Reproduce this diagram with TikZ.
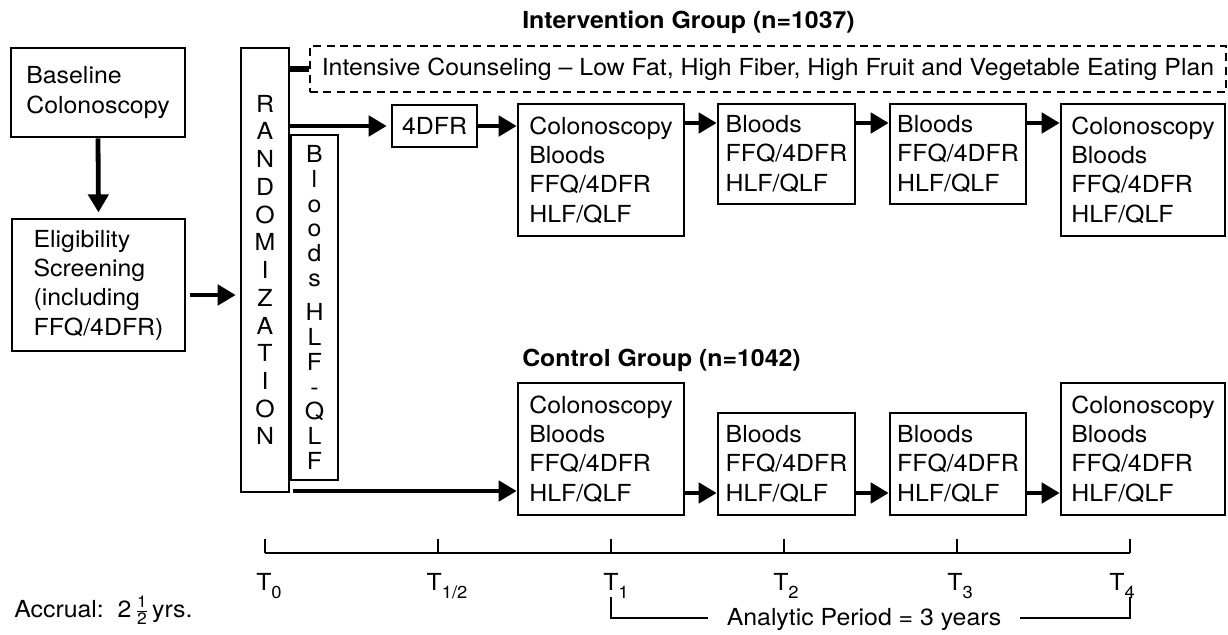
\documentclass[tikz,border=0pt]{standalone}
\usepackage{amsmath}
\usepackage{fontspec}
\setmainfont{TeX Gyre Heros}[FakeStretch=1.06]
\usetikzlibrary{arrows.meta}

\newcommand{\Tsub}[1]{T\raisebox{-6pt}{\fontsize{13}{13}\selectfont #1}}

\begin{document}
\begin{tikzpicture}[
    x=0.75pt, y=-0.75pt,
    every node/.style={font=\fontsize{17.6}{22}\selectfont, inner sep=0pt},
    kasten/.style={draw, line width=1.9pt, align=left},
    spalte/.style={draw, line width=1.9pt, align=center},
    gestrichelt/.style={draw, line width=1.7pt, dash pattern=on 6pt off 4pt},
    pfeil/.style={line width=3.6pt, -{Triangle[length=13.5pt,width=15pt]}},
    balken/.style={line width=3.8pt},
    achse/.style={line width=1.8pt},
    gruppe/.style={font=\fontsize{17.6}{22}\selectfont\bfseries, anchor=base west}
]

% --- Bildgrenzen (Pixel: 1228 x 635) ---
\useasboundingbox (0,0) rectangle (1228,635);

% --- Linke Spalte: Basis-Koloskopie und Eignung ---
\node[kasten, minimum width=130.5pt, minimum height=66.75pt] (basis) at (98,92.5)
    {Baseline\\Colonoscopy};
\node[kasten, minimum width=129.75pt, minimum height=99pt] (eignung) at (98.5,285)
    {Eligibility\\Screening\\(including\\FFQ/4DFR)};

% --- Randomisierung und Bloods-Spalte ---
\node[spalte, minimum width=36pt, minimum height=333pt,
      font=\fontsize{17.6}{20.8}\selectfont] (rand) at (265,270)
    {R\\A\\N\\D\\O\\M\\I\\Z\\A\\T\\I\\O\\N};
\node[spalte, minimum width=35.25pt, minimum height=258.75pt,
      font=\fontsize{17.6}{18.6}\selectfont] (blut) at (314.5,307.5)
    {B\\l\\o\\o\\d\\s\\[7pt]H\\L\\F\\-\\Q\\L\\F};

% --- Interventionsgruppe ---
\node[gruppe] (lblint) at (522,28.5) {Intervention Group (n=1037)};
\node[gestrichelt, minimum width=687pt, minimum height=34.5pt] (beratung) at (768,69)
    {Intensive Counseling -- Low Fat, High Fiber, High Fruit and Vegetable Eating Plan};
\node[kasten, minimum width=63.75pt, minimum height=31.5pt] (dfr) at (434.5,126) {4DFR};
\node[kasten, minimum width=124.5pt, minimum height=99pt] (i1) at (601,170)
    {Colonoscopy\\Bloods\\FFQ/4DFR\\HLF/QLF};
\node[kasten, minimum width=102.75pt, minimum height=75pt] (i2) at (786.5,154)
    {Bloods\\FFQ/4DFR\\HLF/QLF};
\node[kasten, minimum width=102pt, minimum height=75pt] (i3) at (958,154)
    {Bloods\\FFQ/4DFR\\HLF/QLF};
\node[kasten, minimum width=123pt, minimum height=99pt] (i4) at (1143,170)
    {Colonoscopy\\Bloods\\FFQ/4DFR\\HLF/QLF};

% --- Kontrollgruppe ---
\node[gruppe] (lblkon) at (522,366.5) {Control Group (n=1042)};
\node[kasten, minimum width=124.5pt, minimum height=99pt] (c1) at (601,449)
    {Colonoscopy\\Bloods\\FFQ/4DFR\\HLF/QLF};
\node[kasten, minimum width=102.75pt, minimum height=76.5pt] (c2) at (786.5,464)
    {Bloods\\FFQ/4DFR\\HLF/QLF};
\node[kasten, minimum width=102pt, minimum height=76.5pt] (c3) at (958,464)
    {Bloods\\FFQ/4DFR\\HLF/QLF};
\node[kasten, minimum width=123pt, minimum height=99pt] (c4) at (1143,449)
    {Colonoscopy\\Bloods\\FFQ/4DFR\\HLF/QLF};

% --- Pfeile links ---
\draw[pfeil, shorten >=4pt] (basis.south) -- (eignung.north);
\coordinate (eigaus) at (190,295);
\draw[pfeil, shorten >=3pt] (eigaus) -- (eigaus -| rand.west);

% --- Pfeile Interventionsgruppe ---
\draw[balken] (rand.east |- beratung.west) -- (beratung.west);
\draw[pfeil, shorten >=3pt] (rand.east |- dfr.west) -- (dfr.west);
\draw[pfeil] (dfr.east) -- (i1.west |- dfr.east);
\draw[pfeil] (i1.east |- 0,123) -- (i2.west |- 0,123);
\draw[pfeil] (i2.east |- 0,123) -- (i3.west |- 0,123);
\draw[pfeil] (i3.east |- 0,123) -- (i4.west |- 0,123);

% --- Pfeile Kontrollgruppe ---
\coordinate (konaus) at (293,491);
\draw[pfeil] (konaus) -- (konaus -| c1.west);
\draw[pfeil] (c1.east |- 0,493) -- (c2.west |- 0,493);
\draw[pfeil] (c2.east |- 0,493) -- (c3.west |- 0,493);
\draw[pfeil] (c3.east |- 0,493) -- (c4.west |- 0,493);

% --- Zeitachse mit Teilstrichen ---
\coordinate (t0)  at (265,553);
\coordinate (t05) at (438,553);
\coordinate (t1)  at (611,553);
\coordinate (t2)  at (784,553);
\coordinate (t3)  at (957,553);
\coordinate (t4)  at (1130,553);
\draw[achse] (t0) -- (t4);
\draw[achse] (t0)  -- ++(0,-14);
\draw[achse] (t05) -- ++(0,-14);
\draw[achse] (t1)  -- ++(0,-14);
\draw[achse] (t2)  -- ++(0,-14);
\draw[achse] (t3)  -- ++(0,-14);
\draw[achse] (t4)  -- ++(0,-14);

% --- Beschriftung der Zeitpunkte ---
\node[anchor=base] (lt0)  at (269,590)  {\Tsub{0}};
\node[anchor=base] (lt05) at (447,590)  {\Tsub{1/2}};
\node[anchor=base] (lt1)  at (616,590)  {\Tsub{1}};
\node[anchor=base] (lt2)  at (786,590)  {\Tsub{2}};
\node[anchor=base] (lt3)  at (960,590)  {\Tsub{3}};
\node[anchor=base] (lt4)  at (1122,590) {\Tsub{4}};

% --- Rekrutierung und Auswertungszeitraum ---
\node[anchor=base west] (accrual) at (14,617)
    {Accrual:\ \ 2\,$\frac{\text{1}}{\text{2}}$\,yrs.};
\node[anchor=base, inner xsep=14pt] (periode) at (864,625) {Analytic Period = 3 years};
\draw[achse] (t1 |- 0,597) -- (t1 |- 0,618) -- (periode.west |- 0,618);
\draw[achse] (periode.east |- 0,618) -- (t4 |- 0,618) -- (t4 |- 0,597);

\end{tikzpicture}
\end{document}
